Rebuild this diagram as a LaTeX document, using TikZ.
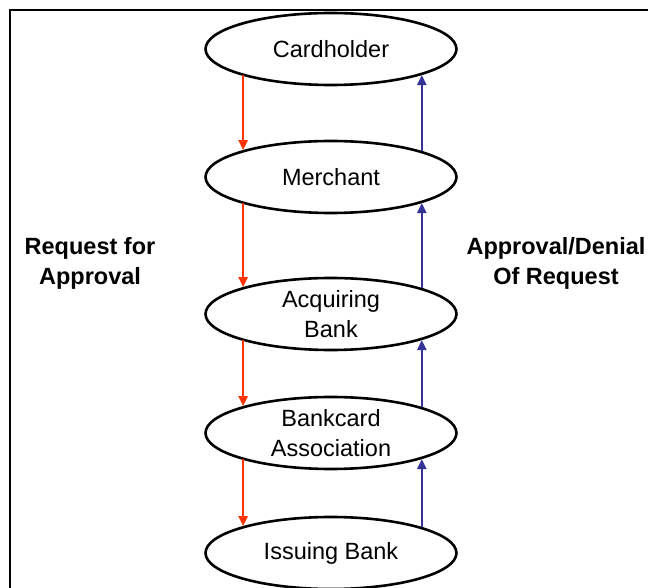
\documentclass[tikz,border=0pt]{standalone}
\usepackage{fontspec}
\setmainfont{Liberation Sans}
\usetikzlibrary{shapes.geometric,arrows.meta}
\definecolor{reqred}{RGB}{255,51,0}
\definecolor{ansblue}{RGB}{51,51,153}
\tikzset{
  party/.style={ellipse, draw=black, line width=2.6pt, fill=white,
    minimum width=251pt, minimum height=72pt, inner sep=0pt, align=center,
    font=\fontsize{23.5}{30}\selectfont},
  sidelabel/.style={align=center, inner sep=0pt,
    font=\fontsize{23.5}{30}\selectfont\bfseries},
  request/.style={draw=reqred, line width=2.3pt,
    -{Triangle[length=10pt,width=9pt]}},
  reply/.style={draw=ansblue, line width=2.3pt,
    -{Triangle[length=10pt,width=9pt]}},
  frameline/.style={line width=2pt, draw=black}
}
\begin{document}
\begin{tikzpicture}[x=1pt,y=-1pt]
  \useasboundingbox (0,0) rectangle (649,588);
  \clip (0,0) rectangle (649,588);
  \fill[white] (0,0) rectangle (649,588);

  % outer frame (left and top edges)
  \draw[frameline] (9.5,588) -- (9.5,10) -- (648,10);

  % parties in the authorisation chain
  \node[party] (card) at (331,49)  {Cardholder};
  \node[party] (merc) at (331,177) {Merchant};
  \node[party] (acq)  at (331,314) {Acquiring\\Bank};
  \node[party] (assoc) at (331,433) {Bankcard\\Association};
  \node[party] (iss)  at (331,553) {Issuing Bank};

  % side captions
  \node[sidelabel] (reqlbl) at (90,263) {Request for\\Approval};
  \node[sidelabel] (anslbl) at (556,263) {Approval/Denial\\Of Request};

  % request flow (down, left side), kept vertical
  \draw[request] (merc.163.7 |- card.196.3)  -- (merc.163.7);
  \draw[request] (acq.163.7 |- merc.196.3)   -- (acq.163.7);
  \draw[request] (assoc.163.7 |- acq.196.3)  -- (assoc.163.7);
  \draw[request] (iss.163.7 |- assoc.196.3)  -- (iss.163.7);

  % approval/denial flow (up, right side)
  \draw[reply] (merc.16.3)  -- (merc.16.3 |- card.-16.3);
  \draw[reply] (acq.16.3)   -- (acq.16.3 |- merc.-16.3);
  \draw[reply] (assoc.16.3) -- (assoc.16.3 |- acq.-16.3);
  \draw[reply] (iss.16.3)   -- (iss.16.3 |- assoc.-16.3);
\end{tikzpicture}
\end{document}
